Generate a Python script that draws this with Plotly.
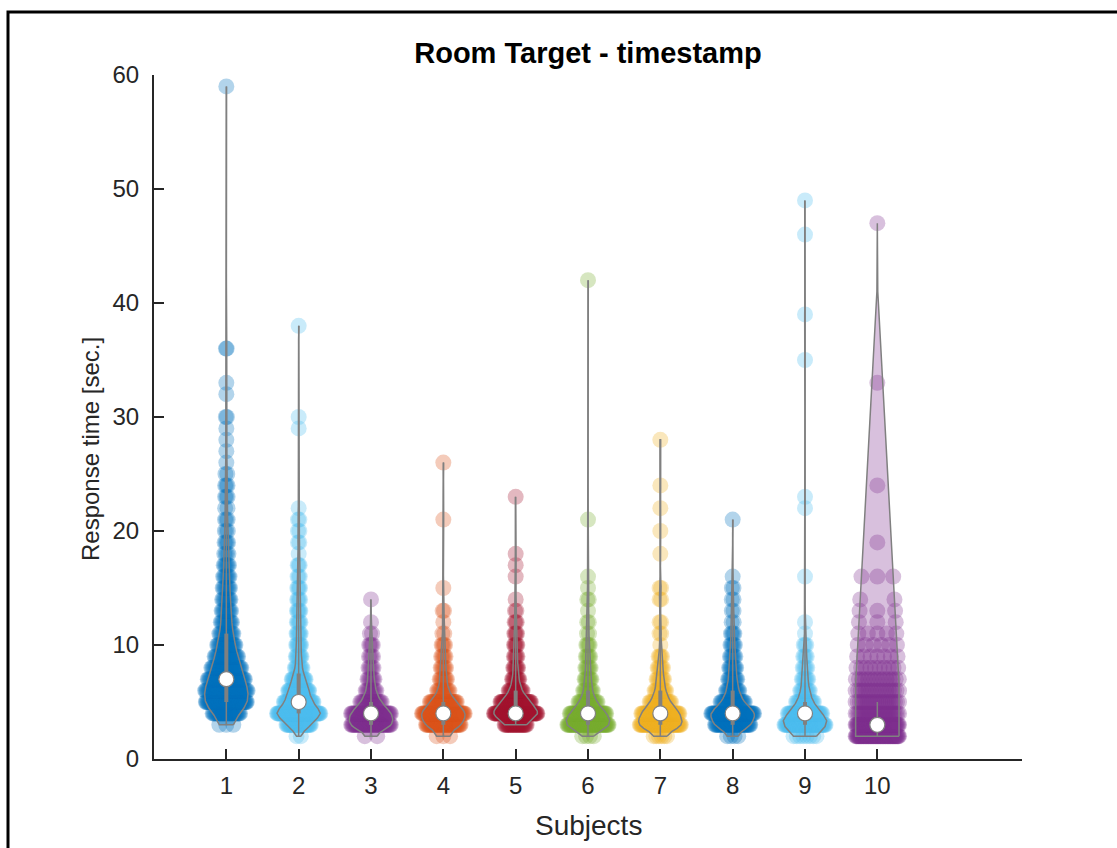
import numpy as np
import plotly.graph_objects as go

# ---------------- data (response times in seconds, value -> count) ----------------
subjects = [1, 2, 3, 4, 5, 6, 7, 8, 9, 10]
tick_labels = ["1", "2", "3", "4", "5", "6", "7", "8", "9", "10"]
colors = ["#0072BD", "#4DBEEE", "#7E2F8E", "#D95319", "#A2142F",
          "#77AC30", "#EDB120", "#0072BD", "#4DBEEE", "#7E2F8E"]

s1_vals = [3, 4, 5, 6, 7, 8, 9, 10, 11, 12, 13, 14, 15, 16, 17, 18, 19, 20, 21, 22, 23, 24, 25, 26, 27, 28, 29, 30, 32, 33, 36, 59]
s1_cnts = [3, 32, 58, 48, 42, 32, 25, 20, 14, 12, 10, 9, 8, 7, 6, 4, 4, 3, 3, 2, 3, 3, 2, 1, 1, 1, 1, 2, 1, 1, 2, 1]

s2_vals = [2, 3, 4, 5, 6, 7, 8, 9, 10, 11, 12, 13, 14, 15, 16, 17, 18, 19, 20, 21, 22, 29, 30, 38]
s2_cnts = [2, 35, 70, 40, 30, 20, 10, 8, 7, 6, 5, 5, 4, 4, 3, 3, 1, 2, 2, 2, 1, 1, 1, 1]

s3_vals = [2, 3, 4, 5, 6, 7, 8, 9, 10, 11, 12, 14]
s3_cnts = [2, 50, 45, 20, 10, 7, 5, 4, 4, 2, 1, 1]

s4_vals = [2, 3, 4, 5, 6, 7, 8, 9, 10, 11, 12, 13, 15, 21, 26]
s4_cnts = [3, 45, 55, 30, 12, 8, 6, 5, 4, 2, 1, 2, 1, 1, 1]

s5_vals = [3, 4, 5, 6, 7, 8, 9, 10, 11, 12, 13, 14, 16, 17, 18, 23]
s5_cnts = [30, 75, 45, 18, 10, 7, 5, 5, 4, 3, 2, 1, 1, 1, 1, 1]

s6_vals = [2, 3, 4, 5, 6, 7, 8, 9, 10, 11, 12, 13, 14, 15, 16, 21, 42]
s6_cnts = [4, 60, 45, 20, 10, 8, 6, 5, 4, 2, 2, 1, 2, 1, 1, 1, 1]

s7_vals = [2, 3, 4, 5, 6, 7, 8, 9, 10, 11, 12, 14, 15, 18, 20, 22, 24, 28]
s7_cnts = [6, 55, 45, 22, 12, 8, 6, 4, 1, 2, 2, 2, 2, 1, 1, 1, 1, 1]

s8_vals = [2, 3, 4, 5, 6, 7, 8, 9, 10, 11, 12, 13, 14, 15, 16, 21]
s8_cnts = [4, 45, 55, 25, 14, 10, 8, 6, 5, 4, 2, 2, 2, 2, 1, 1]

s9_vals = [2, 3, 4, 5, 6, 7, 8, 9, 10, 11, 12, 16, 22, 23, 35, 39, 46, 49]
s9_cnts = [8, 60, 40, 18, 10, 7, 5, 4, 3, 1, 1, 1, 1, 1, 1, 1, 1, 1]

s10_vals = [2, 3, 4, 5, 6, 7, 8, 9, 10, 11, 12, 13, 14, 16, 19, 24, 33, 47]
s10_cnts = [70, 60, 30, 22, 18, 15, 10, 7, 6, 5, 3, 3, 2, 3, 1, 1, 1, 1]

# subject 10's violin outline as drawn in the figure (value, relative half-width)
s10_outline_vals = [2, 6.6, 41, 47]
s10_outline_width = [1.0, 1.0, 0.02, 0.0]
# subject 10's whisker as drawn
s10_whisker = [2, 5]

all_vals = [s1_vals, s2_vals, s3_vals, s4_vals, s5_vals, s6_vals, s7_vals, s8_vals, s9_vals, s10_vals]
all_cnts = [s1_cnts, s2_cnts, s3_cnts, s4_cnts, s5_cnts, s6_cnts, s7_cnts, s8_cnts, s9_cnts, s10_cnts]

VIOLIN_WIDTH = 0.3
GREY = "#808080"
AXC = "#262626"
FONT = "Liberation Sans, Arial, Helvetica, sans-serif"


def ksdensity(data):
    data = np.asarray(data, float)
    n = len(data)
    med = np.median(data)
    sig = np.median(np.abs(data - med)) / 0.6745
    if sig <= 0:
        sig = np.std(data) if np.std(data) > 0 else 1.0
    bw = sig * (4.0 / (3.0 * n)) ** 0.2
    grid = np.linspace(data.min() - 3 * bw, data.max() + 3 * bw, 100)
    dens = np.exp(-0.5 * ((grid[:, None] - data[None, :]) / bw) ** 2).sum(1) / (n * bw * np.sqrt(2 * np.pi))
    mask = (grid >= data.min()) & (grid <= data.max())
    g = grid[mask].copy()
    d = dens[mask].copy()
    g[0] = data.min()
    g[-1] = data.max()
    return g, d


def rgba(hexc, a):
    h = hexc.lstrip("#")
    r, gg, b = int(h[0:2], 16), int(h[2:4], 16), int(h[4:6], 16)
    return f"rgba({r},{gg},{b},{a})"


fig = go.Figure()
violins, whiskers, boxes, medians = [], [], [], []

for i, pos in enumerate(subjects):
    vals, cnts, color = all_vals[i], all_cnts[i], colors[i]
    data = np.repeat(vals, cnts).astype(float)
    if pos == 10:
        g = np.array(s10_outline_vals, float)
        hw = np.array(s10_outline_width, float) * VIOLIN_WIDTH
        wlo, whi = s10_whisker
        box = None
    else:
        g, d = ksdensity(data)
        hw = d * VIOLIN_WIDTH / d.max()
        wlo, whi = data.min(), data.max()
        box = (np.quantile(data, 0.25), np.quantile(data, 0.75))

    xs, ys = [], []
    for v, c in zip(vals, cnts):
        js = float(np.interp(v, g, hw))
        offs = np.linspace(-js, js, c) if c > 1 else np.array([0.0])
        xs.extend(pos + offs)
        ys.extend([v] * c)
    fig.add_trace(go.Scatter(x=xs, y=ys, mode="markers",
                             marker=dict(size=16, color=color, opacity=0.3, line=dict(width=0)),
                             hoverinfo="skip", showlegend=False))

    vx = np.concatenate([pos + hw, (pos - hw)[::-1], [pos + hw[0]]])
    vy = np.concatenate([g, g[::-1], [g[0]]])
    violins.append(go.Scatter(x=vx, y=vy, mode="lines", fill="toself", fillcolor=rgba(color, 0.3),
                              line=dict(color=GREY, width=1.5), hoverinfo="skip", showlegend=False))
    whiskers.append(go.Scatter(x=[pos, pos], y=[wlo, whi], mode="lines",
                               line=dict(color=GREY, width=1.5), hoverinfo="skip", showlegend=False))
    if box is not None:
        boxes.append(go.Scatter(x=[pos, pos], y=list(box), mode="lines",
                                line=dict(color=GREY, width=4), hoverinfo="skip", showlegend=False))
    medians.append(go.Scatter(x=[pos], y=[np.median(data)], mode="markers",
                              marker=dict(size=15, color="white", line=dict(color=GREY, width=1.2)),
                              hoverinfo="skip", showlegend=False))

for t in violins + whiskers + boxes + medians:
    fig.add_trace(t)

L, R, T, B = 154, 95, 75, 89
W, H = 1117, 848
pw, ph = W - L - R, H - T - B


def px_x(px):
    return (px - L) / pw


def px_y(py):
    return (H - B - py) / ph


fig.update_layout(
    width=W, height=H,
    margin=dict(l=L, r=R, t=T, b=B, pad=0),
    paper_bgcolor="white", plot_bgcolor="white",
    font=dict(family=FONT, color=AXC, size=24),
    showlegend=False,
    title=dict(text="<b>Room Target - timestamp</b>", xref="container", x=588 / W, xanchor="center",
               yref="container", y=1 - 53 / H, yanchor="middle",
               font=dict(size=29, color="black", family=FONT)),
    xaxis=dict(range=[0, 12], tickmode="array", tickvals=subjects, ticktext=tick_labels,
               showline=True, linecolor=AXC, linewidth=2, ticks="inside", ticklen=10,
               tickwidth=2, tickcolor=AXC, showgrid=False, zeroline=False,
               tickfont=dict(size=24, color=AXC), ticklabelstandoff=4),
    yaxis=dict(range=[0, 60], tickmode="array", tickvals=[0, 10, 20, 30, 40, 50, 60],
               showline=True, linecolor=AXC, linewidth=2, ticks="inside", ticklen=10,
               tickwidth=2, tickcolor=AXC, showgrid=False, zeroline=False,
               tickfont=dict(size=24, color=AXC), ticklabelstandoff=8),
    annotations=[
        dict(text="Subjects", xref="paper", yref="paper", x=px_x(588), y=px_y(826),
             xanchor="center", yanchor="middle", showarrow=False,
             font=dict(size=28, color=AXC, family=FONT)),
        dict(text="Response time [sec.]", xref="paper", yref="paper", x=px_x(90), y=px_y(449),
             xanchor="center", yanchor="middle", showarrow=False, textangle=-90,
             font=dict(size=24, color=AXC, family=FONT)),
    ],
    shapes=[dict(type="rect", xref="paper", yref="paper",
                 x0=px_x(8), x1=px_x(1130), y0=px_y(870), y1=px_y(12),
                 line=dict(color="black", width=3), fillcolor="rgba(0,0,0,0)", layer="above")],
)

fig.write_html("out.html")
